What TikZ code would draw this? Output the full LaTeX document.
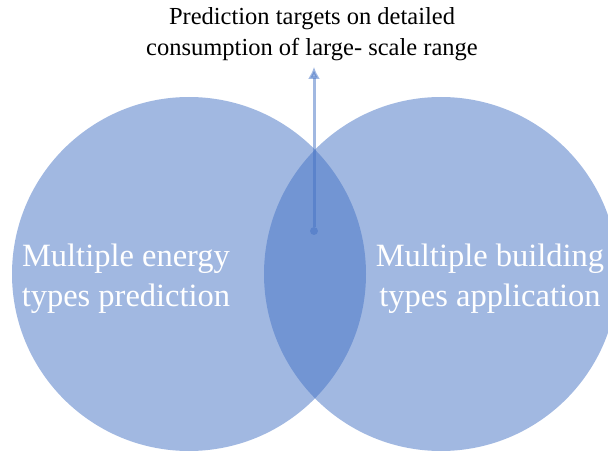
\documentclass[tikz,border=0pt]{standalone}
\usepackage{fontspec}
\setmainfont{Liberation Serif}
\usetikzlibrary{arrows.meta}
\definecolor{setblue}{HTML}{4472C4}
\begin{document}
\begin{tikzpicture}[>={Latex[length=12pt,width=12pt]},x=1pt,y=-1pt]
\useasboundingbox (0,0) rectangle (608,454);

% the two sets
\node[circle,fill=setblue,fill opacity=0.5,minimum size=354pt,inner sep=0pt] (energy) at (189,274) {} ;
\node[circle,fill=setblue,fill opacity=0.5,minimum size=354pt,inner sep=0pt] (building) at (441,274) {} ;

\node[text=white,font=\fontsize{32.5}{40}\selectfont,align=center] (energy_t) at (126,279) {Multiple energy\\types prediction};
\node[text=white,font=\fontsize{32.5}{40}\selectfont,align=center] (building_t) at (490,279) {Multiple building\\types application};

% overlap -> target
\node[circle,fill=setblue,opacity=0.5,minimum size=8pt,inner sep=0pt] (dot) at (314,231) {} ;
\node[font=\fontsize{24.5}{31}\selectfont,align=center,inner sep=2pt] (target) at (312,34) {Prediction targets on detailed\\consumption of large- scale range};

\draw[->,setblue,opacity=0.5,line width=3pt,shorten >=4pt] (dot) -- (dot |- target.south);

\end{tikzpicture}
\end{document}
